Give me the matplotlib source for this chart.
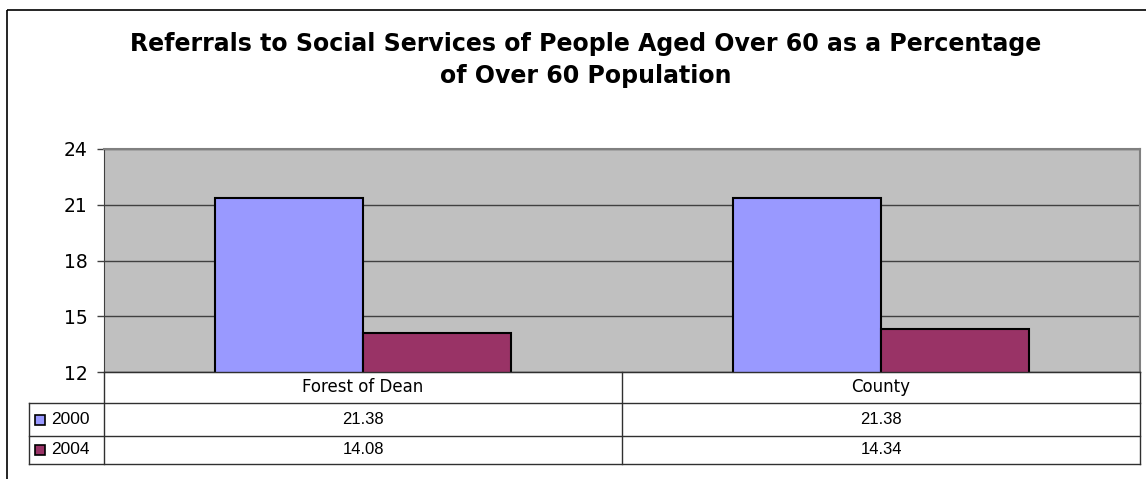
import numpy as np
import matplotlib.pyplot as plt
from matplotlib.patches import Rectangle

categories = ["Forest of Dean", "County"]
series_names = ["2000", "2004"]
values_2000 = [21.38, 21.38]
values_2004 = [14.08, 14.34]
y_ticks = [12, 15, 18, 21, 24]

title = ("Referrals to Social Services of People Aged Over 60 as a Percentage\n"
         "of Over 60 Population")
colors = ["#9999FF", "#993366"]

W, H = 1146, 479
plt.rcParams["font.family"] = ["Liberation Sans", "DejaVu Sans"]
wide = ["DejaVu Sans"]

fig = plt.figure(figsize=(W / 100, H / 100), dpi=100)

# plot area in pixel terms
left, right, top, bottom = 104, 1140, 149, 372
ax = fig.add_axes([left / W, 1 - bottom / H, (right - left) / W, (bottom - top) / H])
ax.set_facecolor("#C0C0C0")

x = np.arange(len(categories))
bw = 0.2866
ax.bar(x - bw / 2, values_2000, bw, color=colors[0], edgecolor="black", linewidth=1.5,
       zorder=3)
ax.bar(x + bw / 2, values_2004, bw, color=colors[1], edgecolor="black", linewidth=1.5,
       zorder=3)

ax.set_xlim(-0.5, len(categories) - 0.5)
ax.set_ylim(y_ticks[0], y_ticks[-1])
ax.set_yticks(y_ticks)
ax.set_yticklabels([str(t) for t in y_ticks], fontsize=13.5, family=wide)
ax.tick_params(axis="y", length=5, width=1, color="#404040", pad=7)
ax.set_xticks([])
ax.yaxis.grid(True, color="#404040", linewidth=1, zorder=1)
for side in ["top", "right"]:
    ax.spines[side].set_color("#808080")
    ax.spines[side].set_linewidth(1.5)
ax.spines["left"].set_color("#404040")
ax.spines["bottom"].set_color("#404040")

# overlay in pixel coordinates for the frame, title and data table
ov = fig.add_axes([0, 0, 1, 1], facecolor="none")
ov.set_xlim(0, W)
ov.set_ylim(H, 0)
ov.axis("off")

ov.add_patch(Rectangle((7, 10), W + 10, H + 10, fill=False, edgecolor="black",
                       linewidth=1.2))
ov.text(586, 60, title, ha="center", va="center", fontsize=17, family=wide,
        fontweight="bold", linespacing=1.45)

# data table
row_tops = [372, 403, 436, 464]
legend_left = 29
col_w = (right - left) / len(categories)
lc = "#303030"
ov.plot([left, right], [row_tops[0], row_tops[0]], color=lc, lw=1)
for yy in row_tops[1:]:
    ov.plot([legend_left, right], [yy, yy], color=lc, lw=1)
ov.plot([legend_left, legend_left], [row_tops[1], row_tops[-1]], color=lc, lw=1)
for i in range(len(categories) + 1):
    xx = left + i * col_w
    ov.plot([xx, xx], [row_tops[0], row_tops[-1]], color=lc, lw=1)

for i, cat in enumerate(categories):
    ov.text(left + (i + 0.5) * col_w, (row_tops[0] + row_tops[1]) / 2, cat,
            ha="center", va="center", fontsize=12, family=wide)

for r, (name, vals) in enumerate(zip(series_names, [values_2000, values_2004])):
    yc = (row_tops[r + 1] + row_tops[r + 2]) / 2
    ov.add_patch(Rectangle((35, yc - 5), 10, 10, facecolor=colors[r], edgecolor="black",
                           linewidth=1.2))
    ov.text(51, yc, name, ha="left", va="center", fontsize=12.5)
    for i, v in enumerate(vals):
        ov.text(left + (i + 0.5) * col_w, yc, f"{v:.2f}", ha="center", va="center",
                fontsize=12)

fig.savefig("out.png", dpi=100)
